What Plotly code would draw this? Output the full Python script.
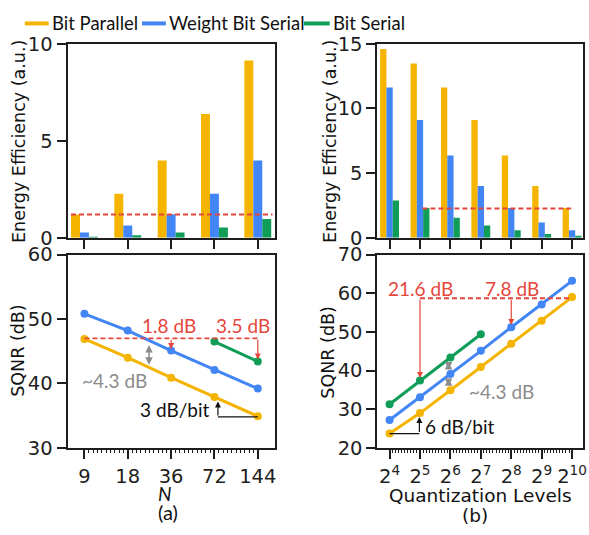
import plotly.graph_objects as go

# ---------------- data ----------------
N_labels = ["9", "18", "36", "72", "144"]
Q_exps = [4, 5, 6, 7, 8, 9, 10]
Q_labels = [f"2<sup>{e}</sup>" for e in Q_exps]

series_names = ["Bit Parallel", "Weight Bit Serial", "Bit Serial"]
colors = ["#F4B400", "#4285F4", "#0F9D58"]

# Energy efficiency (a.u.) vs N
ee_a_bp = [1.2, 2.27, 3.99, 6.38, 9.14]
ee_a_wbs = [0.28, 0.63, 1.22, 2.27, 3.99]
ee_a_bs = [0.05, 0.13, 0.28, 0.53, 0.97]

# Energy efficiency (a.u.) vs quantization levels
ee_b_bp = [14.6, 13.48, 11.63, 9.11, 6.37, 4.0, 2.3]
ee_b_wbs = [11.63, 9.11, 6.37, 4.0, 2.3, 1.19, 0.59]
ee_b_bs = [2.89, 2.3, 1.56, 0.96, 0.59, 0.30, 0.15]

# SQNR (dB) vs N
sq_a_bp = [46.9, 44.0, 40.9, 37.9, 34.9]
sq_a_wbs = [50.8, 48.2, 45.1, 42.1, 39.2]
sq_a_bs_N = ["72", "144"]
sq_a_bs = [46.5, 43.4]

# SQNR (dB) vs quantization levels
sq_b_bp = [23.7, 29.0, 34.9, 40.9, 46.9, 52.9, 59.0]
sq_b_wbs = [27.2, 33.1, 39.1, 45.1, 51.2, 57.1, 63.2]
sq_b_bs_exps = [4, 5, 6, 7]
sq_b_bs = [31.3, 37.4, 43.4, 49.4]

ref_ee_a = 1.2
ref_ee_b = 2.27
ref_sq_a = 47.0
ref_sq_b = 58.7

# ---------------- helpers ----------------
xa = list(range(len(N_labels)))
xb = list(range(len(Q_exps)))
xa_bs = [N_labels.index(n) for n in sq_a_bs_N]
xb_bs = [Q_exps.index(e) for e in sq_b_bs_exps]

W, H = 589, 535
def px(x):
    return x / W
def py(y):
    return 1 - y / H

RED = "#E5463C"
GRAY = "#8C8C8C"
AX = "#1E1E1E"
TICKFONT = dict(family="DejaVu Sans", size=19.5, color="#1E1E1E")
ANNFONT = "Lato"

fig = go.Figure()

# bars (a)
for name, c, vals in zip(series_names, colors, [ee_a_bp, ee_a_wbs, ee_a_bs]):
    fig.add_trace(go.Bar(x=xa, y=vals, name=name, marker=dict(color=c, line=dict(width=0)),
                         showlegend=False, xaxis="x", yaxis="y"))
# bars (b)
for name, c, vals in zip(series_names, colors, [ee_b_bp, ee_b_wbs, ee_b_bs]):
    fig.add_trace(go.Bar(x=xb, y=vals, name=name, marker=dict(color=c, line=dict(width=0)),
                         showlegend=False, xaxis="x2", yaxis="y2"))

# lines (a)
for name, c, xs, vals in zip(series_names, colors, [xa, xa, xa_bs], [sq_a_bp, sq_a_wbs, sq_a_bs]):
    fig.add_trace(go.Scatter(x=xs, y=vals, mode="lines+markers", name=name,
                             line=dict(color=c, width=3), marker=dict(color=c, size=8),
                             showlegend=False, xaxis="x3", yaxis="y3"))
# lines (b)
for name, c, xs, vals in zip(series_names, colors, [xb, xb, xb_bs], [sq_b_bp, sq_b_wbs, sq_b_bs]):
    fig.add_trace(go.Scatter(x=xs, y=vals, mode="lines+markers", name=name,
                             line=dict(color=c, width=3), marker=dict(color=c, size=8),
                             showlegend=False, xaxis="x4", yaxis="y4"))

left_dom = [px(68), px(277)]
right_dom = [px(380), px(587)]
top_dom = [py(237), py(34.3)]
bot_dom = [py(456.5), py(254.5)]

common_x = dict(showline=True, linewidth=2, linecolor=AX, mirror=True, showgrid=False,
                zeroline=False, ticks="outside", ticklen=9, tickwidth=2, tickcolor=AX,
                tickfont=TICKFONT, ticklabeloverflow="allow")
common_y = dict(showline=True, linewidth=2, linecolor=AX, mirror=True, showgrid=False,
                zeroline=False, ticks="outside", ticklen=9, tickwidth=2, tickcolor=AX,
                tickfont=TICKFONT, ticklabeloverflow="allow")

xr_a = [-0.39, 4.40]
xr_b = [-0.40, 6.36]

minor_a = [i + k / 10 for i in xa[:-1] for k in range(1, 10)]
minor_b = [i + k / 10 for i in xb[:-1] for k in range(1, 10)]

fig.update_layout(
    width=W, height=H, margin=dict(l=0, r=0, t=0, b=0), autosize=False,
    plot_bgcolor="white", paper_bgcolor="white", showlegend=False,
    barmode="group", bargap=0.38, bargroupgap=0,
    xaxis=dict(domain=left_dom, anchor="y", range=xr_a, tickvals=xa, showticklabels=False, **common_x),
    yaxis=dict(domain=top_dom, anchor="x", range=[0, 10], tickvals=[0, 5, 10], **common_y),
    xaxis2=dict(domain=right_dom, anchor="y2", range=xr_b, tickvals=xb, showticklabels=False, **common_x),
    yaxis2=dict(domain=top_dom, anchor="x2", range=[0, 15], tickvals=[0, 5, 10, 15], **common_y),
    xaxis3=dict(domain=left_dom, anchor="y3", range=xr_a, tickvals=xa, ticktext=N_labels,
                ticklabelstandoff=1,
                minor=dict(tickmode="array", tickvals=minor_a, ticks="outside", ticklen=3,
                           tickwidth=1, tickcolor=AX), **common_x),
    yaxis3=dict(domain=bot_dom, anchor="x3", range=[30, 60], tickvals=[30, 40, 50, 60], **common_y),
    xaxis4=dict(domain=right_dom, anchor="y4", range=xr_b, tickvals=xb, ticktext=Q_labels,
                ticklabelstandoff=1,
                minor=dict(tickmode="array", tickvals=minor_b, ticks="outside", ticklen=3,
                           tickwidth=1, tickcolor=AX), **common_x),
    yaxis4=dict(domain=bot_dom, anchor="x4", range=[20, 70], tickvals=[20, 30, 40, 50, 60, 70], **common_y),
)

shapes = []
ann = []

def hline(xref, yref, x0, x1, y, color=RED, dash="5px,3px", width=1.8):
    shapes.append(dict(type="line", xref=xref, yref=yref, x0=x0, x1=x1, y0=y, y1=y,
                       line=dict(color=color, width=width, dash=dash)))

def seg(xref, yref, x0, y0, x1, y1, color="#111", width=1.2):
    shapes.append(dict(type="line", xref=xref, yref=yref, x0=x0, x1=x1, y0=y0, y1=y1,
                       line=dict(color=color, width=width)))

def arrow(xref, yref, x, y, ax, ay, color, width=1.2, both=False, head=2, size=1.0):
    ann.append(dict(xref=xref, yref=yref, axref=xref, ayref=yref, x=x, y=y, ax=ax, ay=ay,
                    text="", showarrow=True, arrowhead=head, arrowsize=size, arrowwidth=width,
                    arrowcolor=color, startarrowhead=head, startarrowsize=size,
                    arrowside="end+start" if both else "end", standoff=0, startstandoff=0))

def text(xref, yref, x, y, s, color, size=19, family=ANNFONT, xanchor="center", yanchor="middle", angle=0):
    ann.append(dict(xref=xref, yref=yref, x=x, y=y, text=s, showarrow=False,
                    font=dict(family=family, size=size, color=color),
                    xanchor=xanchor, yanchor=yanchor, textangle=angle))

# legend (drawn manually: short thick line + label)
leg_line_x = [(25, 49), (143, 167), (306, 332)]
for (x0, x1), name, c in zip(leg_line_x, series_names, colors):
    shapes.append(dict(type="line", xref="paper", yref="paper", x0=px(x0), x1=px(x1),
                       y0=py(13), y1=py(13), line=dict(color=c, width=4)))
    text("paper", "paper", px(x1 + 1), py(13), name, "#111", size=18.5, xanchor="left")

# reference lines on bar charts
hline("x", "y", -0.31, 4.34, ref_ee_a, width=2)
hline("x2", "y2", 1.08, 5.97, ref_ee_b, width=2)

# bottom-left annotations
hline("x3", "y3", 0, 4, ref_sq_a)
arrow("x3", "y3", 2, 45.35, 2, ref_sq_a, RED)
arrow("x3", "y3", 4, 43.7, 4, ref_sq_a, RED)
text("x3", "y3", 1.95, 48.95, "1.8 dB", RED)
text("x3", "y3", 3.67, 48.95, "3.5 dB", RED)
arrow("x3", "y3", 1.49, 42.9, 1.49, 46.2, GRAY, width=1.5, both=True)
text("x3", "y3", 0.69, 40.4, "~4.3 dB", GRAY)
seg("x3", "y3", 3.08, sq_a_bp[4] - 0.1, 4, sq_a_bp[4] - 0.1)
arrow("x3", "y3", 3.08, 37.2, 3.08, sq_a_bp[4] - 0.1, "#111")
text("x3", "y3", 2.93, 36.0, "3 dB/bit", "#111", xanchor="right")

# bottom-right annotations
hline("x4", "y4", 1, 6, ref_sq_b)
arrow("x4", "y4", 1, 38.1, 1, ref_sq_b, RED)
arrow("x4", "y4", 4, 51.8, 4, ref_sq_b, RED)
text("x4", "y4", 1.01, 61.3, "21.6 dB", RED)
text("x4", "y4", 4.02, 61.3, "7.8 dB", RED)
arrow("x4", "y4", 1.94, 40.3, 1.94, 42.6, GRAY, width=1.5, both=True)
arrow("x4", "y4", 1.94, 36.0, 1.94, 38.4, GRAY, width=1.5, both=True)
text("x4", "y4", 3.67, 34.6, "~4.3 dB", GRAY)
seg("x4", "y4", 0, sq_b_bp[0], 0.98, sq_b_bp[0])
arrow("x4", "y4", 0.98, 28.0, 0.98, sq_b_bp[0], "#111")
text("x4", "y4", 1.1, 25.5, "6 dB/bit", "#111", xanchor="left")

# axis titles
text("paper", "paper", px(18.5), py(136.5), "Energy Efficiency (a.u.)", "#111", size=17.5,
     family="DejaVu Sans", angle=-90)
text("paper", "paper", px(331.5), py(136.5), "Energy Efficiency (a.u.)", "#111", size=17.5,
     family="DejaVu Sans", angle=-90)
text("paper", "paper", px(18.7), py(355.5), "SQNR (dB)", "#111", size=17.5,
     family="DejaVu Sans", angle=-90)
text("paper", "paper", px(330.7), py(356.5), "SQNR (dB)", "#111", size=17.5,
     family="DejaVu Sans", angle=-90)
text("paper", "paper", px(166), py(504), "<i>N</i>", "#111", size=19)
text("paper", "paper", px(169), py(524), "(a)", "#111", size=20)
text("paper", "paper", px(484), py(506), "Quantization Levels", "#111", size=18.5,
     family="DejaVu Sans")
text("paper", "paper", px(478.5), py(527), "(b)", "#111", size=18.5, family="DejaVu Sans")

fig.update_layout(shapes=shapes, annotations=ann)

fig.write_html("out.html")
